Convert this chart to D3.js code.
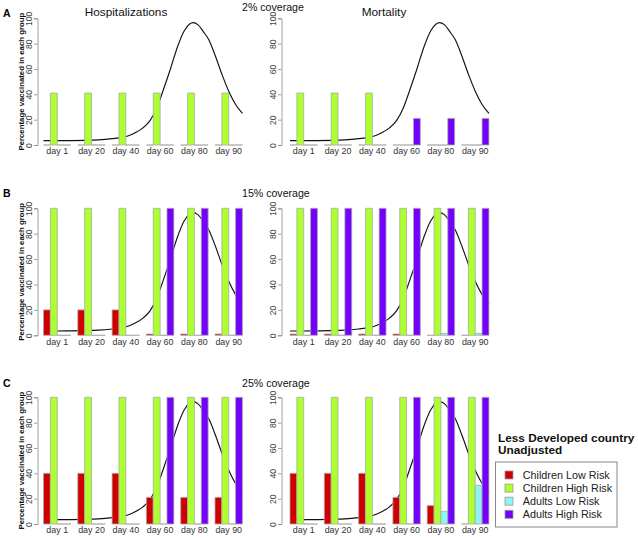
<!DOCTYPE html>
<html>
<head>
<meta charset="utf-8">
<script src="https://cdn.jsdelivr.net/npm/d3@7"></script>
<style>
  html, body { margin: 0; padding: 0; background: #fff; }
  svg { display: block; font-family: "Liberation Sans", Arial, Helvetica, sans-serif; }
</style>
</head>
<body>
<svg id="chart" width="638" height="538"></svg>
<script>
// ---------------- DATA ----------------
const days = ["day 1", "day 20", "day 40", "day 60", "day 80", "day 90"];
const groups = ["Children Low Risk", "Children High Risk", "Adults Low Risk", "Adults High Risk"];
const yTicks = [0, 20, 40, 60, 80, 100];
const panelLetters = ["A", "B", "C"];
const coverageLabels = ["2% coverage", "15% coverage", "25% coverage"];
const outcomeTitles = ["Hospitalizations", "Mortality"];
const yLabel = "Percentage vaccinated in each group";
const legendTitle = ["Less Developed country", "Unadjusted"];

// Percentage vaccinated per group (rows: Children Low, Children High, Adults Low, Adults High)
const hosp2 = [
  [0, 0, 0, 0, 0, 0],
  [41, 41, 41, 41, 41, 41],
  [0, 0, 0, 0, 0, 0],
  [0, 0, 0, 0, 0, 0]
];
const mort2 = [
  [0, 0, 0, 0, 0, 0],
  [41, 41, 41, 0, 0, 0],
  [0, 0, 0, 0, 0, 0],
  [0, 0, 0, 21, 21, 21]
];
const hosp15 = [
  [20, 20, 20, 1, 1, 1],
  [100, 100, 100, 100, 100, 100],
  [0, 0, 0, 0, 0, 0],
  [0, 0, 0, 100, 100, 100]
];
const mort15 = [
  [1, 1, 1, 1, 0, 0],
  [100, 100, 100, 100, 100, 100],
  [0, 0, 0, 0, 1.5, 1.5],
  [100, 100, 100, 100, 100, 100]
];
const hosp25 = [
  [40, 40, 40, 21, 21, 21],
  [100, 100, 100, 100, 100, 100],
  [0, 0, 0, 0, 0, 0],
  [0, 0, 0, 100, 100, 100]
];
const mort25 = [
  [40, 40, 40, 21, 14.5, 0],
  [100, 100, 100, 100, 100, 100],
  [0, 0, 0, 0, 10, 30.5],
  [0, 0, 0, 100, 100, 100]
];

// Epidemic curve (scaled 0-100) read along the bar axis; position = group index (0 = "day 1" ... 5 = "day 90")
const curvePos = [-0.4, 0, 0.4, 0.8, 1.2, 1.6, 1.9, 2.1, 2.3, 2.5, 2.7, 2.9, 3.1, 3.3, 3.5, 3.7, 3.86, 3.96, 4.1, 4.26, 4.42, 4.6, 4.8, 5.0, 5.2, 5.4];
const curveVal = [3.4, 3.4, 3.5, 3.7, 4.1, 5.0, 6.0, 7.5, 10, 13.5, 19, 29, 44, 60, 77, 90, 95.5, 96.6, 95, 89.5, 83, 71, 56, 42.5, 32, 25];

// ---------------- STYLE ----------------
const colors = ["#D10000", "#ADFF2F", "#90F4F4", "#7300FA"];
const font = '"Liberation Sans", Arial, Helvetica, sans-serif';

const rows = [
  { y0: 145, y100: 18.3, data: [hosp2, mort2], letterY: 17, covY: 10.5 },
  { y0: 335.3, y100: 208.3, data: [hosp15, mort15], letterY: 197, covY: 196.5 },
  { y0: 524, y100: 397.3, data: [hosp25, mort25], letterY: 387, covY: 386.5 }
];
const cols = [
  { barStart: 43.5, axisX: 37.5 },
  { barStart: 290, axisX: 281.5 }
];
const groupStep = 34.3;

const svg = d3.select("#chart");

rows.forEach((row, ri) => {
  // panel letter
  svg.append("text").attr("x", 3).attr("y", row.letterY)
    .attr("font-size", 10.5).attr("font-weight", "bold").attr("fill", "#000")
    .text(panelLetters[ri]);
  // coverage title
  svg.append("text").attr("x", 242).attr("y", row.covY)
    .attr("font-size", 10.6).attr("fill", "#111")
    .text(coverageLabels[ri]);

  cols.forEach((col, ci) => {
    const values = row.data[ci];
    const y = d3.scaleLinear().domain([0, 100]).range([row.y0, row.y100]);
    const bandRangeEnd = col.barStart + groupStep * (days.length - 0.2);
    const x0 = d3.scaleBand().domain(days).range([col.barStart, bandRangeEnd])
      .paddingInner(0.2).paddingOuter(0);
    const x1 = d3.scaleBand().domain(groups).range([0, x0.bandwidth()]).padding(0);
    const xc = d3.scaleLinear().domain([0, days.length - 1])
      .range([x0(days[0]) + x0.bandwidth() / 2, x0(days[days.length - 1]) + x0.bandwidth() / 2]);

    const g = svg.append("g");

    // epidemic curve (drawn first, bars cover it)
    const line = d3.line()
      .x((d, i) => xc(curvePos[i]))
      .y(d => y(d))
      .curve(d3.curveMonotoneX);
    g.append("path").attr("d", line(curveVal))
      .attr("fill", "none").attr("stroke", "#111").attr("stroke-width", 1.15);

    // bars (paths so that zero-height bars still show their border)
    const barData = [];
    groups.forEach((grp, si) => {
      days.forEach((d, di) => {
        barData.push({ day: d, grp: grp, si: si, v: values[si][di] });
      });
    });
    g.selectAll("path.bar").data(barData).enter().append("path")
      .attr("class", "bar")
      .attr("d", d => {
        const xl = x0(d.day) + x1(d.grp);
        const w = x1.bandwidth();
        return `M${xl},${y(0)}V${y(d.v)}H${xl + w}V${y(0)}Z`;
      })
      .attr("fill", d => colors[d.si])
      .attr("stroke", "#a8a8a8")
      .attr("stroke-width", 0.8);

    // y axis
    const yAxis = d3.axisLeft(y).tickValues(yTicks).tickSize(3.5).tickFormat(d3.format("d"));
    const ya = g.append("g").attr("transform", `translate(${col.axisX},0)`).call(yAxis);
    ya.select(".domain").attr("stroke", "#888").attr("stroke-width", 0.8);
    ya.selectAll(".tick line").attr("stroke", "#888").attr("stroke-width", 0.8);
    ya.selectAll(".tick text")
      .attr("transform", "rotate(-90)")
      .attr("x", 0).attr("y", -5.5).attr("dy", 0)
      .attr("text-anchor", "middle")
      .attr("font-size", 8.6).attr("font-family", font).attr("fill", "#444");

    // x labels
    g.selectAll("text.xl").data(days).enter().append("text")
      .attr("class", "xl")
      .attr("x", d => x0(d) + x0.bandwidth() / 2)
      .attr("y", row.y0 + 9.2)
      .attr("text-anchor", "middle")
      .attr("font-size", 8.9).attr("fill", "#333")
      .text(d => d);

    // outcome title only on top row
    if (ri === 0) {
      svg.append("text")
        .attr("x", ci === 0 ? 126 : 384).attr("y", 15.5)
        .attr("text-anchor", "middle")
        .attr("font-size", 11.8).attr("fill", "#111")
        .text(outcomeTitles[ci]);
    }
    // y label on left column
    if (ci === 0) {
      const yc = (row.y0 + row.y100) / 2;
      svg.append("text")
        .attr("transform", `translate(21.5,${yc}) rotate(-90)`)
        .attr("text-anchor", "middle").attr("dy", "0.35em")
        .attr("font-size", 7.8).attr("font-weight", "bold").attr("fill", "#111")
        .text(yLabel);
    }
  });
});

// ---------------- LEGEND ----------------
const lg = svg.append("g");
lg.selectAll("text.lt").data(legendTitle).enter().append("text")
  .attr("class", "lt")
  .attr("x", 498).attr("y", (d, i) => 441.5 + i * 12.8)
  .attr("font-size", 11.8).attr("font-weight", "bold").attr("fill", "#111")
  .text(d => d);
lg.append("rect").attr("x", 495.5).attr("y", 462).attr("width", 121.5).attr("height", 65)
  .attr("fill", "#fff").attr("stroke", "#888").attr("stroke-width", 1);
const items = lg.selectAll("g.item").data(groups).enter().append("g")
  .attr("class", "item")
  .attr("transform", (d, i) => `translate(0,${475 + i * 13.1})`);
items.append("rect").attr("x", 505).attr("y", -4).attr("width", 8).attr("height", 8)
  .attr("fill", (d, i) => colors[i]).attr("stroke", "#999").attr("stroke-width", 0.8);
items.append("text").attr("x", 522.7).attr("y", 4)
  .attr("font-size", 10.8).attr("fill", "#222")
  .text(d => d);
</script>
</body>
</html>
